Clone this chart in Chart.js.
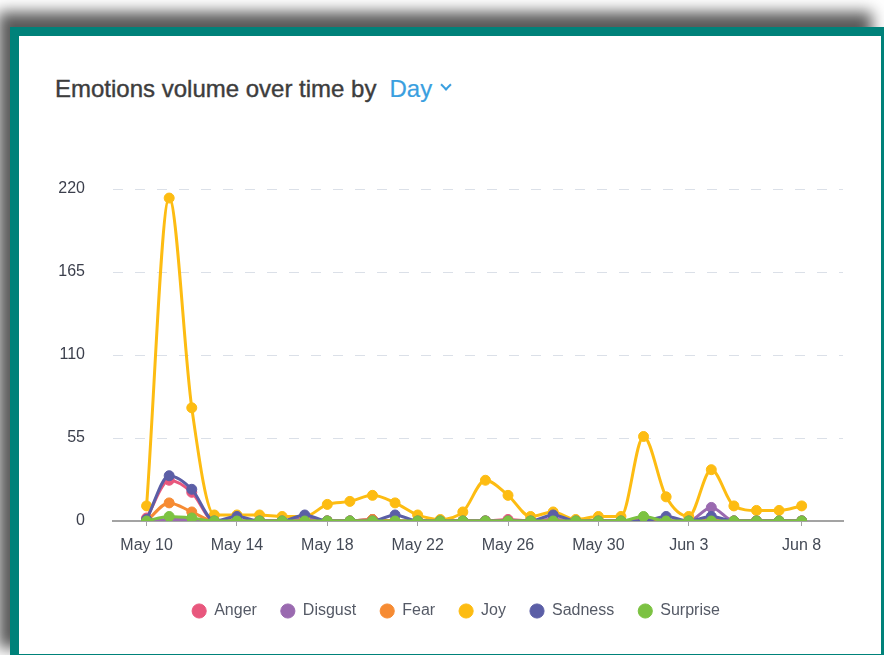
<!DOCTYPE html>
<html lang="en">
<head>
    <meta charset="UTF-8">
    <title>Emotions volume over time</title>
    <script src="https://cdn.jsdelivr.net/npm/chart.js"></script>
    <style>
        html, body { margin: 0; padding: 0; background: #fff; overflow: hidden; }
        body { width: 884px; height: 655px; position: relative; font-family: "Liberation Sans", Arial, sans-serif; }
        .card {
            position: absolute; left: 10px; top: 27px; width: 874px; height: 636px;
            box-sizing: border-box; background: #fff;
            border: 9px solid #00827a; border-right-width: 3px;
            box-shadow: -12px -15px 14px rgba(0, 0, 0, 0.65);
        }
        .title {
            position: absolute; left: 55px; top: 75px; font-size: 24px; line-height: 28px;
            color: #3d3d3d; white-space: nowrap; -webkit-text-stroke: 0.4px #3d3d3d;
        }
        .title .day { color: #3a9fdf; margin-left: 13px; -webkit-text-stroke: 0.2px #3a9fdf; }
        .title .chev {
            display: inline-block; width: 6px; height: 6px; margin-left: 10px;
            border-right: 2px solid #3a9fdf; border-bottom: 2px solid #3a9fdf;
            transform: translateY(-8px) rotate(45deg);
        }
        #chart { position: absolute; left: 20px; top: 110px; }
    </style>
</head>
<body>
    <div class="card"></div>
    <div class="title">Emotions volume over time by<span class="day">Day</span><span class="chev"></span></div>
    <canvas id="chart" width="864" height="545"></canvas>

    <script>
        const days = ['May 10', 'May 11', 'May 12', 'May 13', 'May 14', 'May 15', 'May 16', 'May 17',
            'May 18', 'May 19', 'May 20', 'May 21', 'May 22', 'May 23', 'May 24', 'May 25', 'May 26',
            'May 27', 'May 28', 'May 29', 'May 30', 'May 31', 'Jun 1', 'Jun 2', 'Jun 3', 'Jun 4',
            'Jun 5', 'Jun 6', 'Jun 7', 'Jun 8'];
        const tickLabels = ['May 10', 'May 14', 'May 18', 'May 22', 'May 26', 'May 30', 'Jun 3', 'Jun 8'];
        const yTicks = [0, 55, 110, 165, 220];

        const anger    = [2, 27, 19, 0, 0, 0, 0, 1, 0, 0, 1, 0, 0, 0, 0, 0, 1, 0, 1, 0, 0, 0, 1, 0, 0, 1, 0, 0, 0, 0];
        const disgust  = [0, 1, 1, 0, 0, 0, 0, 2, 0, 0, 1, 0, 0, 0, 0, 0, 0, 0, 1, 0, 0, 0, 0, 0, 0, 9, 0, 0, 0, 0];
        const fear     = [0, 12, 6, 0, 0, 0, 0, 0, 0, 0, 1, 0, 0, 0, 0, 0, 0, 0, 0, 0, 0, 0, 0, 0, 0, 0, 0, 0, 0, 0];
        const joy      = [10, 214, 75, 4, 4, 4, 3, 3, 11, 13, 17, 12, 4, 1, 6, 27, 17, 3, 6, 1, 3, 3, 56, 16, 3, 34, 10, 7, 7, 10];
        const sadness  = [1, 30, 21, 0, 3, 0, 0, 4, 0, 0, 0, 4, 0, 0, 0, 0, 0, 0, 4, 0, 0, 0, 0, 3, 0, 3, 0, 0, 0, 0];
        const surprise = [0, 3, 2, 0, 0, 0, 0, 0, 0, 0, 0, 0, 0, 0, 0, 0, 0, 0, 0, 0, 0, 0, 3, 0, 0, 0, 0, 0, 0, 0];

        const series = [
            { label: 'Anger', data: anger, color: '#e8577d', order: 6 },
            { label: 'Disgust', data: disgust, color: '#9a6ab0', order: 5 },
            { label: 'Fear', data: fear, color: '#f68b33', order: 4 },
            { label: 'Joy', data: joy, color: '#fdbc12', order: 3 },
            { label: 'Sadness', data: sadness, color: '#5b5ea6', order: 2 },
            { label: 'Surprise', data: surprise, color: '#7cc242', order: 1 }
        ];

        const ctx = document.getElementById('chart').getContext('2d');
        new Chart(ctx, {
            type: 'line',
            data: {
                datasets: series.map(s => ({
                    label: s.label,
                    data: s.data.map((v, i) => ({ x: i, y: v })),
                    borderColor: s.color,
                    backgroundColor: s.color,
                    pointBackgroundColor: s.color,
                    pointBorderColor: s.color,
                    pointBorderWidth: 1,
                    pointRadius: 5,
                    borderWidth: 3,
                    cubicInterpolationMode: 'monotone',
                    order: s.order
                }))
            },
            options: {
                responsive: false,
                animation: false,
                layout: { padding: { top: 79, left: 39, right: 31, bottom: 26 } },
                scales: {
                    x: {
                        type: 'linear',
                        min: -1.487,
                        max: 30.83,
                        afterBuildTicks: (scale) => {
                            scale.ticks = tickLabels.map(l => ({ value: days.indexOf(l) }));
                        },
                        afterFit: (scale) => { scale.height = 58; },
                        grid: { display: true, drawOnChartArea: false, drawTicks: true, tickLength: 5, color: '#a3a3a3' },
                        border: { display: true, color: '#a3a3a3', width: 2 },
                        ticks: {
                            autoSkip: false,
                            maxRotation: 0,
                            padding: 10,
                            color: '#444a56',
                            font: { family: 'Liberation Sans', size: 16 },
                            callback: (v) => days[v]
                        }
                    },
                    y: {
                        min: 0,
                        max: 220,
                        afterBuildTicks: (scale) => {
                            scale.ticks = yTicks.map(v => ({ value: v }));
                        },
                        afterFit: (scale) => { scale.width = 54; },
                        grid: { color: '#dbe0e8', lineWidth: 1, drawTicks: false },
                        border: { display: false, dash: [10, 12] },
                        ticks: {
                            padding: 28,
                            color: '#3b3f4c',
                            font: { family: 'Liberation Sans', size: 16 }
                        }
                    },
                    // empty strip on the right so the legend sits where it does in the original
                    yRight: {
                        position: 'right',
                        grid: { display: false, drawTicks: false },
                        border: { display: false },
                        ticks: { display: false },
                        afterFit: (scale) => { scale.width = 10; }
                    }
                },
                plugins: {
                    tooltip: { enabled: false },
                    legend: {
                        position: 'bottom',
                        labels: {
                            usePointStyle: true,
                            pointStyle: 'circle',
                            boxWidth: 14,
                            boxHeight: 10,
                            padding: 24,
                            color: '#555a66',
                            font: { family: 'Liberation Sans', size: 16 },
                            sort: (a, b) => a.datasetIndex - b.datasetIndex
                        }
                    }
                }
            }
        });
    </script>
</body>
</html>
